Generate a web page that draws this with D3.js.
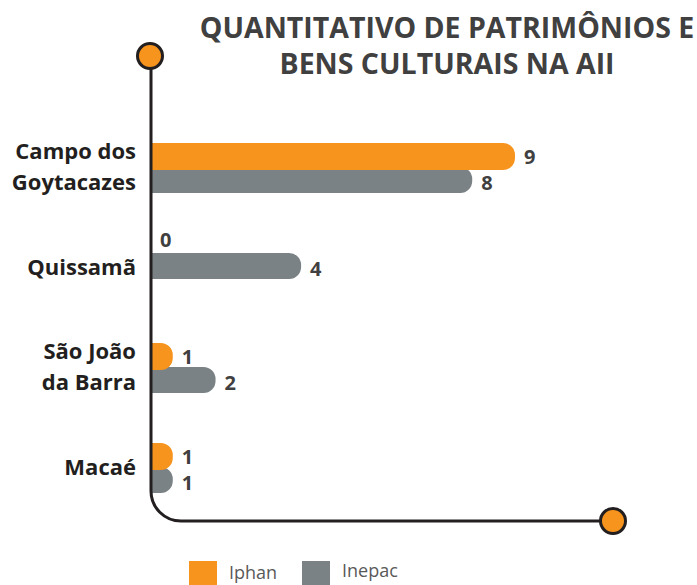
<!DOCTYPE html>
<html>
<head>
<meta charset="utf-8">
<script src="https://cdn.jsdelivr.net/npm/d3@7"></script>
<style>
  html, body { margin: 0; padding: 0; background: #ffffff; }
  svg { display: block; font-family: "Open Sans", "Noto Sans", sans-serif; }
</style>
</head>
<body>
<svg id="chart" width="697" height="585"></svg>
<script>
// Municipalities (label lines) and counts per protection body
const categories = ["Campo dos Goytacazes", "Quissamã", "São João da Barra", "Macaé"];
const categoryLines = [["Campo dos", "Goytacazes"], ["Quissamã"], ["São João", "da Barra"], ["Macaé"]];
const iphan = [9, 0, 1, 1];
const inepac = [8, 4, 2, 1];
const seriesNames = ["Iphan", "Inepac"];
const titleLines = ["QUANTITATIVO DE PATRIMÔNIOS E", "BENS CULTURAIS NA AII"];

const ORANGE = "#F7941D", GREY = "#7B8285", INK = "#231F20", TEXT = "#404040";

const svg = d3.select("#chart");

const axisX = 151, axisTop = 56, axisBottom = 521, cornerR = 30, endX = 613;

const x = d3.scaleLinear().domain([0, 9]).range([130, 515]);
const y = d3.scaleBand().domain(categories).range([118, 518]);

// Title
const title = svg.append("text")
  .attr("x", 447).attr("y", 38)
  .attr("text-anchor", "middle")
  .attr("font-size", 28.5).attr("font-weight", 700)
  .attr("fill", TEXT);
title.selectAll("tspan").data(titleLines).join("tspan")
  .attr("x", 447).attr("dy", (d, i) => i === 0 ? 0 : 36)
  .text(d => d);

// Bar with square left end and rounded right end
function barPath(x0, x1, y0, h) {
  const w = x1 - x0;
  const r = Math.min(12, h / 2, w);
  return `M${x0},${y0} H${x1 - r} A${r},${r} 0 0 1 ${x1},${y0 + r} V${y0 + h - r} A${r},${r} 0 0 1 ${x1 - r},${y0 + h} H${x0} Z`;
}

const groups = svg.append("g").selectAll("g").data(categories).join("g")
  .attr("transform", d => `translate(0,${y(d) + y.bandwidth() / 2})`);

// When a municipality has no Iphan item, its Inepac bar sits centred on the row
const greyTop = i => iphan[i] > 0 ? -1 : -15;

// Inepac bars (behind)
groups.append("path")
  .attr("fill", GREY)
  .attr("d", (d, i) => inepac[i] > 0 ? barPath(axisX, x(inepac[i]), greyTop(i), 26) : null);

// Iphan bars (in front)
groups.append("path")
  .attr("fill", ORANGE)
  .attr("d", (d, i) => iphan[i] > 0 ? barPath(axisX, x(iphan[i]), -25, 27) : null);

// Value labels
groups.append("text")
  .attr("x", (d, i) => Math.max(x(iphan[i]), axisX) + 9)
  .attr("y", (d, i) => iphan[i] > 0 ? -4 : -21)
  .attr("font-size", 20).attr("font-weight", 700).attr("fill", TEXT)
  .text((d, i) => iphan[i]);
groups.append("text")
  .attr("x", (d, i) => Math.max(x(inepac[i]), axisX) + 9)
  .attr("y", (d, i) => greyTop(i) + 23)
  .attr("font-size", 20).attr("font-weight", 700).attr("fill", TEXT)
  .text((d, i) => inepac[i]);

// Category labels
groups.append("text")
  .attr("text-anchor", "end")
  .attr("font-size", 22).attr("font-weight", 700).attr("fill", INK)
  .each(function (d, i) {
    const lines = categoryLines[i];
    const t = d3.select(this);
    const first = lines.length === 1 ? 7 : -9;
    lines.forEach((l, k) => {
      t.append("tspan").attr("x", 136).attr("y", first + k * 31).text(l);
    });
  });

// Axis line: vertical, rounded corner, horizontal
svg.append("path")
  .attr("fill", "none").attr("stroke", INK).attr("stroke-width", 3)
  .attr("d", `M${axisX},${axisTop} V${axisBottom - cornerR} A${cornerR},${cornerR} 0 0 0 ${axisX + cornerR},${axisBottom} H${endX}`);

// End markers
svg.selectAll("circle.end").data([[axisX - 1, axisTop], [endX, axisBottom]]).join("circle")
  .attr("class", "end")
  .attr("cx", d => d[0]).attr("cy", d => d[1]).attr("r", 12.5)
  .attr("fill", ORANGE).attr("stroke", INK).attr("stroke-width", 3);

// Legend
const legendX = [189, 302];
const legendColors = [ORANGE, GREY];
const leg = svg.append("g").selectAll("g").data(seriesNames).join("g");
leg.append("rect")
  .attr("x", (d, i) => legendX[i]).attr("y", 561)
  .attr("width", 28).attr("height", 26)
  .attr("fill", (d, i) => legendColors[i]);
leg.append("text")
  .attr("x", (d, i) => legendX[i] + 40).attr("y", (d, i) => i === 0 ? 579 : 577)
  .attr("font-size", 18).attr("fill", "#595959")
  .text(d => d);
</script>
</body>
</html>
